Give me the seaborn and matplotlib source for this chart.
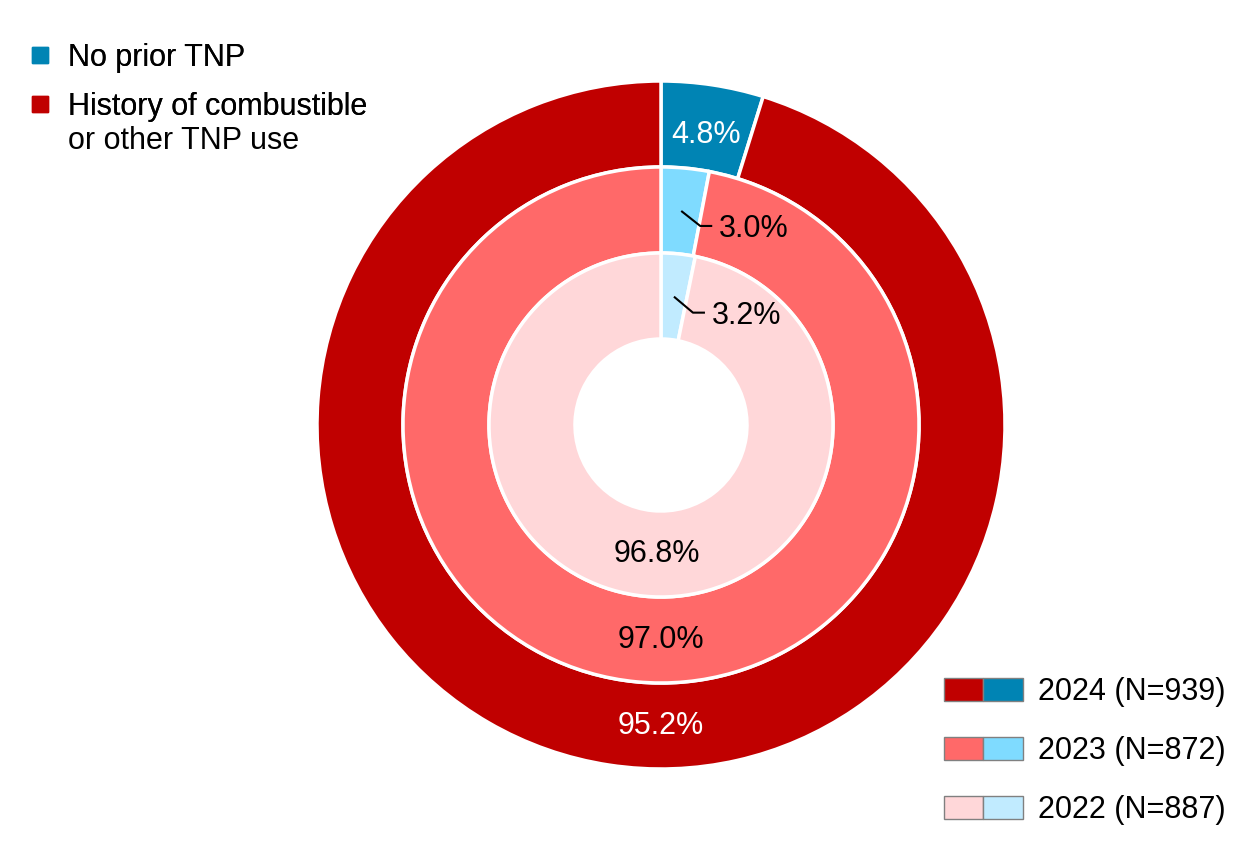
"""
Nested doughnut: prior tobacco/nicotine product (TNP) use by survey year.
Saves out.png (1250x846).
"""

import matplotlib.pyplot as plt
import numpy as np
import seaborn as sns
from matplotlib.legend_handler import HandlerTuple
from matplotlib.lines import Line2D
from matplotlib.patches import Patch

sns.set_theme(style="white")
plt.rcParams["font.family"] = ["Liberation Sans", "DejaVu Sans"]
plt.rcParams["text.color"] = "black"

# data, outer ring first
years = ["2024", "2023", "2022"]
sample_sizes = [939, 872, 887]
no_prior_pct = [4.8, 3.0, 3.2]
history_pct = [95.2, 97.0, 96.8]

category_labels = ["No prior TNP", "History of combustible"]
category_label_cont = "or other TNP use"
history_colors = ["#C00000", "#FF6969", "#FFD7D9"]
no_prior_colors = ["#0084B4", "#7FDBFF", "#C1EBFF"]

W, H = 1250, 846
CENTER = (661, H - 425)
R_OUTER = 344
RING = 86
FS = 22


def main() -> None:
    fig = plt.figure(figsize=(W / 100, H / 100), dpi=100)
    ax = fig.add_axes([0, 0, 1, 1])

    for i, year in enumerate(years):
        radius = R_OUTER - i * RING
        ax.pie(
            [no_prior_pct[i], history_pct[i]],
            colors=[no_prior_colors[i], history_colors[i]],
            radius=radius,
            center=CENTER,
            startangle=90,
            counterclock=False,
            wedgeprops=dict(width=RING, edgecolor="white", linewidth=2.5),
            frame=True,
        )
        mid_r = radius - RING / 2

        # big share: label at the bottom of the ring
        ax.text(
            CENTER[0] - (4 if i == 2 else 0), CENTER[1] - mid_r,
            f"{history_pct[i]:.1f}%",
            ha="center", va="center", fontsize=FS,
            color="white" if i == 0 else "black",
        )

        # small share: label in slice (outer) or with a leader line
        theta = np.deg2rad(no_prior_pct[i] / 100 * 360 / 2)
        px = CENTER[0] + mid_r * np.sin(theta)
        py = CENTER[1] + mid_r * np.cos(theta)
        if i == 0:
            ax.text(px, py - 8, f"{no_prior_pct[i]:.1f}%", ha="center",
                    va="center", fontsize=FS, color="white")
        else:
            drop = 15 if i == 1 else 16
            ax.plot([px, px + 19, px + 31], [py, py - drop, py - drop],
                    color="black", lw=1.5, solid_capstyle="butt")
            ax.text(px + 38, py - drop - 3, f"{no_prior_pct[i]:.1f}%",
                    ha="left", va="center", fontsize=FS, color="black")

    ax.set_xlim(0, W)
    ax.set_ylim(0, H)
    ax.set_aspect("equal")
    ax.axis("off")

    # category legend, top left
    cat_handles = [
        Line2D([], [], marker="s", linestyle="none", markersize=11,
               markerfacecolor=c, markeredgecolor=c)
        for c in [no_prior_colors[0], history_colors[0]]
    ]
    leg1 = fig.legend(
        cat_handles, category_labels, loc="upper left",
        bbox_to_anchor=(28 / W, 1 - 43 / H), frameon=False, fontsize=FS,
        handlelength=0.8, handletextpad=0.5, labelspacing=0.62,
        borderpad=0, borderaxespad=0,
    )
    fig.add_artist(leg1)
    fig.text(68 / W, 1 - 141 / H, category_label_cont, ha="left",
             va="center", fontsize=FS, color="black")

    # year legend, bottom right, two-colour swatches
    year_handles = [
        (Patch(facecolor=history_colors[i], edgecolor="#808080", lw=1),
         Patch(facecolor=no_prior_colors[i], edgecolor="#808080", lw=1))
        for i in range(len(years))
    ]
    year_labels = [f"{y} (N={n})" for y, n in zip(years, sample_sizes)]
    fig.legend(
        year_handles, year_labels, loc="lower right",
        bbox_to_anchor=(1 - 24 / W, 21 / H), frameon=False, fontsize=FS,
        handler_map={tuple: HandlerTuple(ndivide=None, pad=0)},
        handlelength=2.6, handleheight=0.8, handletextpad=0.5,
        labelspacing=0.95, borderpad=0, borderaxespad=0,
    )

    fig.savefig("out.png", dpi=100, facecolor="white")
    plt.close(fig)


if __name__ == "__main__":
    main()
